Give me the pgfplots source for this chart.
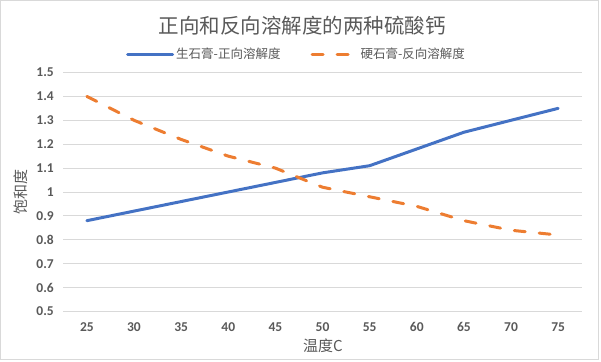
\documentclass[border=0pt]{standalone}
\usepackage{fontspec}
\setmainfont{Carlito}
\newfontfamily\cjk{Noto Sans CJK SC}
\usepackage{pgfplots}
\pgfplotsset{compat=1.18}
\definecolor{txt}{HTML}{595959}
\definecolor{gridc}{HTML}{D9D9D9}
\definecolor{cblue}{HTML}{4472C4}
\definecolor{corange}{HTML}{ED7D31}
\begin{document}
\begin{tikzpicture}[x=1pt,y=1pt]
\path[use as bounding box] (0,0) rectangle (601,361);
\draw[gridc, line width=0.8pt] (0.8,1.6) rectangle (598.4,360.2);
\begin{axis}[
  at={(63.3pt,49.5pt)}, anchor=south west,
  scale only axis, width=518.4pt, height=239pt,
  xmin=22.5, xmax=77.5, ymin=0.5, ymax=1.5,
  xtick={25,30,35,40,45,50,55,60,65,70,75},
  ytick={0.5,0.6,0.7,0.8,0.9,1,1.1,1.2,1.3,1.4,1.5},
  yticklabels={0.5,0.6,0.7,0.8,0.9,1,1.1,1.2,1.3,1.4,1.5},
  axis line style={draw=none},
  major tick length=0pt,
  ymajorgrids, grid style={gridc, line width=0.9pt},
  /pgf/number format/assume math mode=true,
  tick label style={font=\bfseries\fontsize{13.5}{15}\selectfont, text=txt},
  xticklabel style={yshift=-10pt, inner ysep=1pt},
  yticklabel style={xshift=-6pt},
  clip=false,
  legend style={at={(0.450,1.076)}, anchor=center, draw=none, fill=none,
    font=\cjk\fontsize{12.5}{14}\selectfont, text=txt,
    /tikz/every even column/.append style={column sep=28pt},
    nodes={inner xsep=2pt, inner ysep=0pt}},
  legend columns=2,
  legend image code/.code={\draw[#1] (0pt,0pt) -- (45pt,0pt);},
]
\addplot[cblue, line width=3pt, line cap=round] coordinates {
(25,0.88) (30,0.92) (35,0.96) (40,1.00) (45,1.04) (50,1.08) (55,1.11) (60,1.18) (65,1.25) (70,1.30) (75,1.35)};
\addlegendentry{生石膏-正向溶解度}
\addplot[corange, line width=3pt, line cap=round, dash pattern=on 11pt off 14pt] coordinates {
(25,1.40) (30,1.30) (35,1.22) (40,1.15) (45,1.10) (50,1.02) (55,0.98) (60,0.94) (65,0.88) (70,0.84) (75,0.82)};
\addlegendentry{硬石膏-反向溶解度}
\end{axis}
\node[font=\cjk\fontsize{20.5}{24}\selectfont, text=txt] at (302,335) {正向和反向溶解度的两种硫酸钙};
\node[font=\cjk\fontsize{15}{18}\selectfont, text=txt, rotate=90] at (21,169) {饱和度};
\node[font=\cjk\fontsize{15}{18}\selectfont, text=txt, inner ysep=1pt] at (323,15.5) {温度C};
\end{tikzpicture}
\end{document}
